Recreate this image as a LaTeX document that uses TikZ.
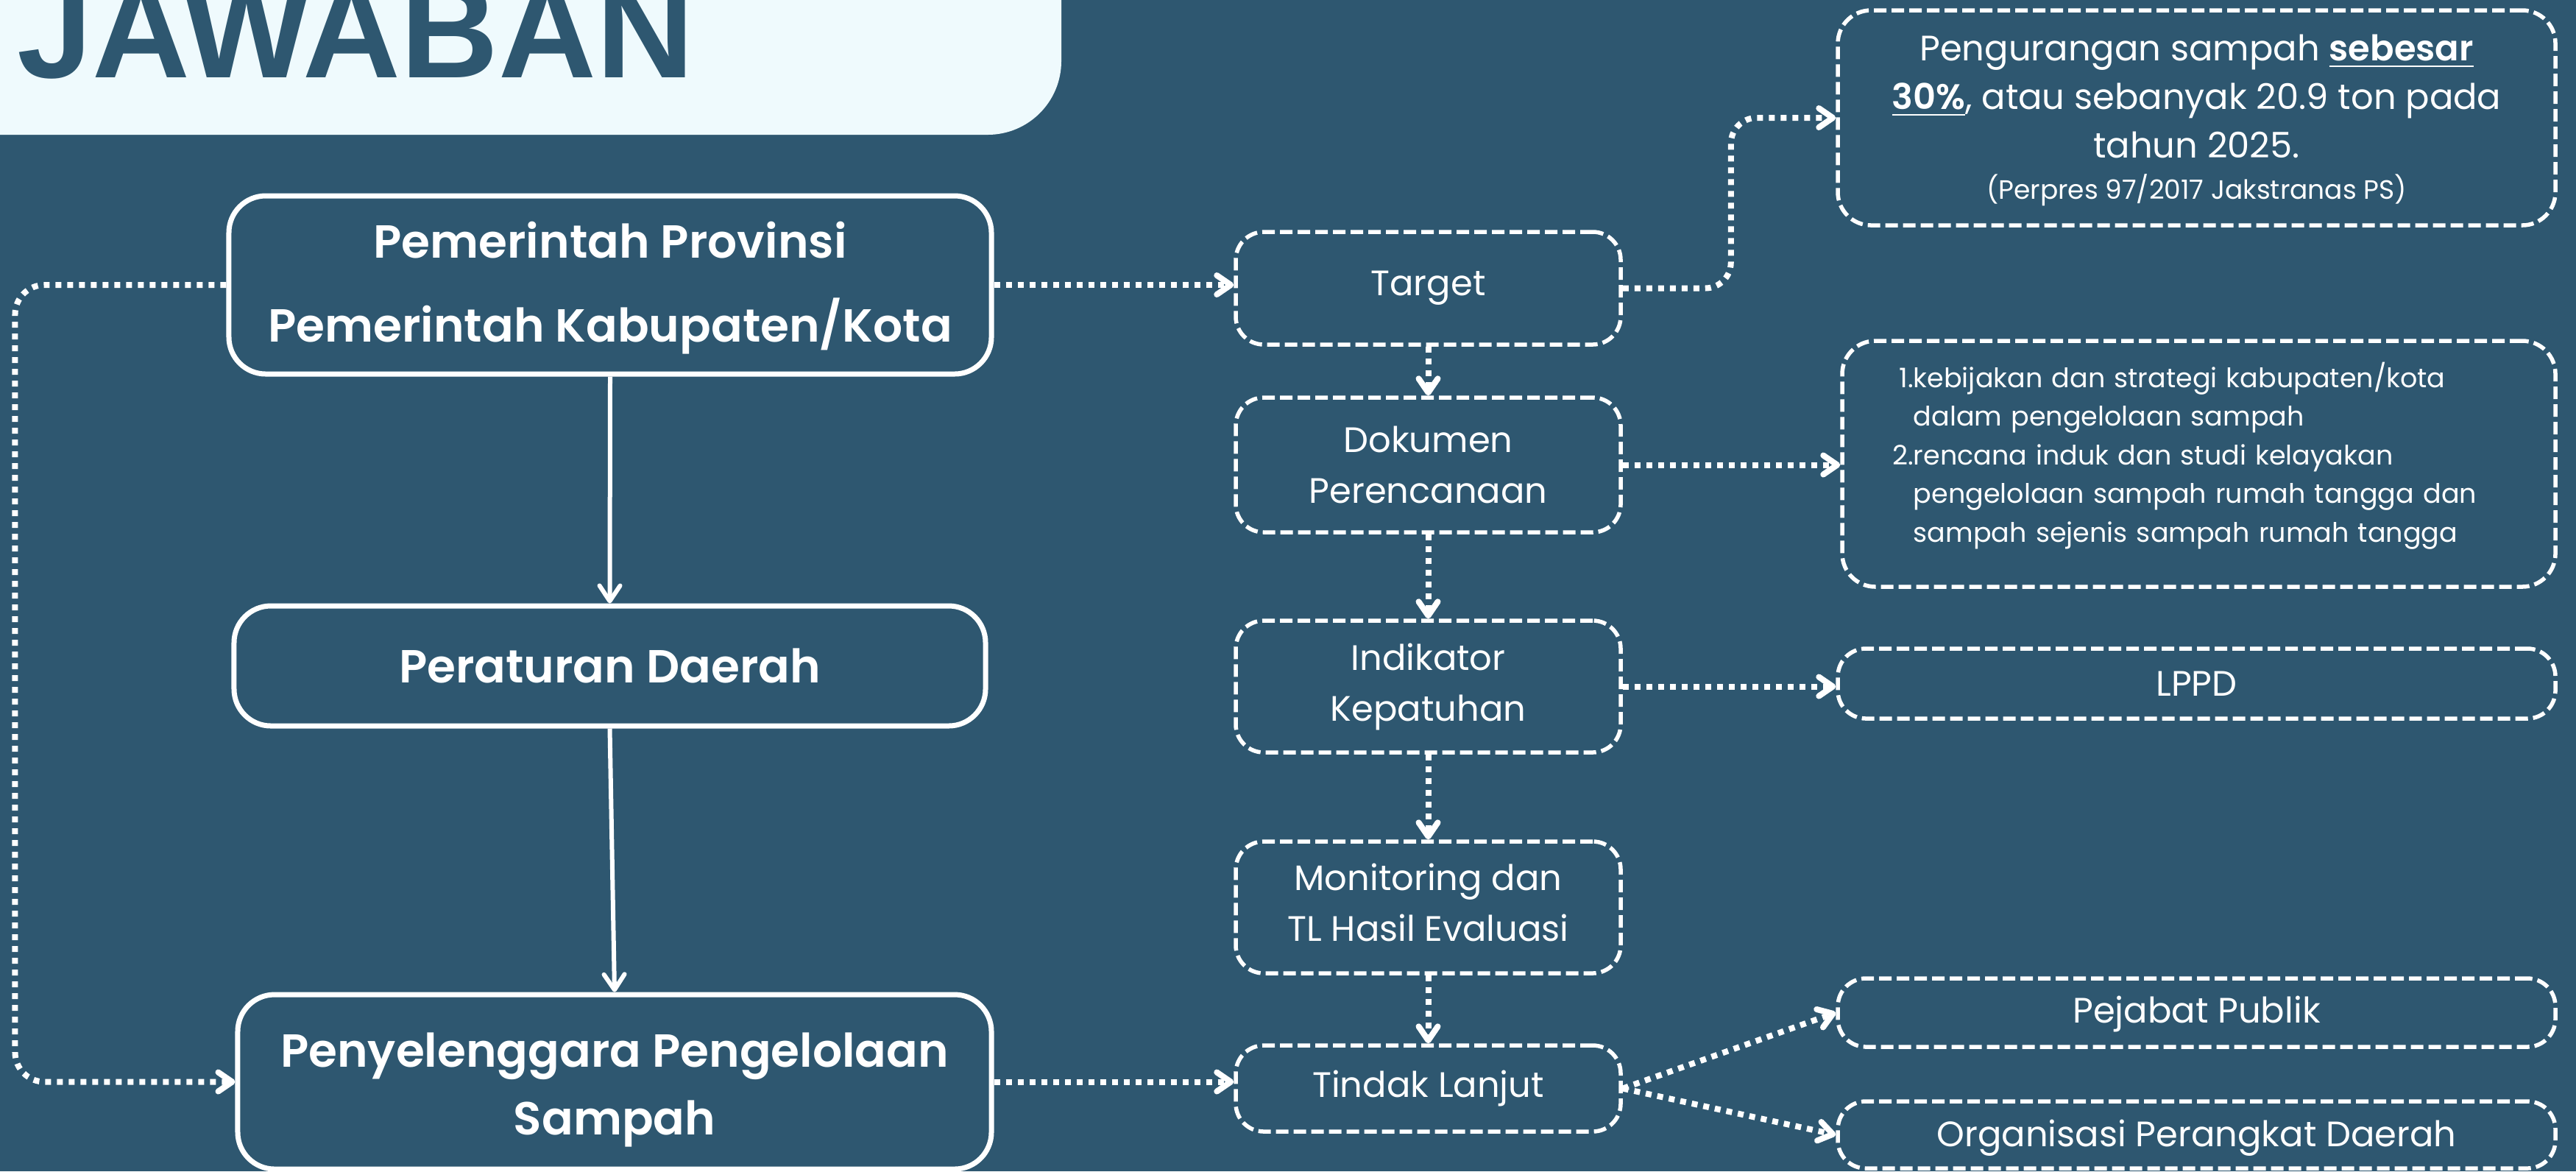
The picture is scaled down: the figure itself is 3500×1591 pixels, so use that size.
\documentclass[tikz,border=0pt]{standalone}
\usepackage{fontspec}
\setmainfont{Poppins}[BoldFont={Poppins SemiBold}]
\newfontfamily\titlefont{Liberation Sans}
\usetikzlibrary{arrows.meta}
\definecolor{bg}{HTML}{2E5770}
\definecolor{tfill}{HTML}{EFFAFD}
\definecolor{fg}{HTML}{FFFFFF}
\newcommand\numbox[1]{\makebox[0.9em][r]{#1}}
\newcommand\numskip{\hspace*{0.9em}}
\newcommand\shiftline[2]{\raisebox{#1}[\height][\depth]{#2}}
\tikzset{
 solidbox/.style={draw=fg, line width=1.4pt, rounded corners=10pt, text=fg, align=center, inner sep=0pt, font=\bfseries\fontsize{12.6}{22.8}\selectfont},
 dbox/.style={draw=fg, line width=1.1pt, dash pattern=on 3.4pt off 1.4pt, rounded corners=7.6pt, text=fg, align=center, inner sep=0pt, font=\fontsize{9.6}{13.8}\selectfont},
 conn/.style={draw=fg, line width=1.6pt, dash pattern=on 1.6pt off 1.6pt, -{Straight Barb[length=3.8pt,width=5.2pt,round]}},
 solidarrow/.style={draw=fg, line width=1.2pt, -{Straight Barb[length=4.2pt,width=5.6pt,round]}},
}
\begin{document}
\begin{tikzpicture}[x=0.2pt,y=-0.2pt]
\useasboundingbox (0,0) rectangle (3500,1591);
\fill[bg] (0,0) rectangle (3500,1591);
\fill[tfill, rounded corners=20pt] (-200,-200) rectangle (1442,183);
\node[anchor=base west, inner sep=0pt, text=bg, font=\titlefont\bfseries\fontsize{36.8}{40}\selectfont] (title) at (22,105) {JAWABAN};

% left column
\node[solidbox, minimum width=207.2pt, minimum height=48.4pt] (b1) at (829,387) {\shiftline{-0.9pt}{Pemerintah Provinsi}\\\shiftline{-0.9pt}{Pemerintah Kabupaten/Kota}};
\node[solidbox, minimum width=204.2pt, minimum height=32.6pt] (b2) at (828.5,904.5) {Peraturan Daerah};
\node[solidbox, minimum width=204.8pt, minimum height=47.4pt, font=\bfseries\fontsize{12.6}{18.4}\selectfont] (b3) at (835,1469.5) {\shiftline{-2.2pt}{Penyelenggara Pengelolaan}\\\shiftline{-2.2pt}{Sampah}};

% middle column
\node[dbox, minimum width=104.6pt, minimum height=30.6pt] (tg) at (1940.5,391.5) {Target};
\node[dbox, minimum width=104.6pt, minimum height=36.6pt] (dk) at (1940.5,631.5) {Dokumen\\Perencanaan};
\node[dbox, minimum width=104.6pt, minimum height=35.8pt] (ik) at (1940.5,932.5) {Indikator\\Kepatuhan};
\node[dbox, minimum width=104.6pt, minimum height=35.8pt] (mo) at (1940.5,1232.5) {\shiftline{1.4pt}{Monitoring dan}\\\shiftline{1.4pt}{TL Hasil Evaluasi}};
\node[dbox, minimum width=104.6pt, minimum height=23.4pt] (tl) at (1940.5,1478.5) {Tindak Lanjut};

% right column
\node[dbox, rounded corners=9pt, minimum width=195pt, minimum height=58.4pt, font=\fontsize{9.6}{13.2}\selectfont] (r1) at (2984.5,160) {\shiftline{-0.6pt}{Pengurangan sampah \underline{\textbf{sebesar}}}\\\shiftline{-0.6pt}{\underline{\textbf{30\%}}, atau sebanyak 20.9 ton pada}\\\shiftline{-0.6pt}{tahun 2025.}\\[-2pt]\shiftline{-0.6pt}{\fontsize{7.2}{11.2}\selectfont (Perpres 97/2017 Jakstranas PS)}};
\node[dbox, rounded corners=9pt, minimum width=193.8pt, minimum height=66.8pt, text width=168.2pt, align=left, font=\fontsize{7.3}{10.5}\selectfont] (r2) at (2987.5,630) {\numbox{1.}kebijakan dan strategi kabupaten/kota\\\numskip dalam pengelolaan sampah\\\numbox{2.}rencana induk dan studi kelayakan\\\numskip pengelolaan sampah rumah tangga dan\\\numskip sampah sejenis sampah rumah tangga\par\vspace{4.4pt}};
\node[dbox, minimum width=195pt, minimum height=19pt] (lp) at (2984.5,928.5) {LPPD};
\node[dbox, minimum width=195pt, minimum height=18.6pt] (pj) at (2984.5,1375.5) {\shiftline{-0.4pt}{Pejabat Publik}};
\node[dbox, minimum width=195pt, minimum height=18.2pt] (og) at (2984.5,1541.5) {\shiftline{-0.8pt}{Organisasi Perangkat Daerah}};

% solid arrows
\draw[solidarrow] (b1.south) -- (b2.north);
\draw[solidarrow] (b2.south) -- (b3.north);

% dotted connectors
\draw[conn, rounded corners=8pt] (b1.west) -- ++(-287,0) |- (b3.west);
\draw[conn] (b1.east) -- (b1.east -| tg.west);
\draw[conn] (b3.east) -- (b3.east -| tl.west);
\draw[conn, rounded corners=7pt] (tg.east) -- ++(147,0) |- (r1.west);
\draw[conn] (dk.east) -- (dk.east -| r2.west);
\draw[conn] (ik.east) -- (ik.east -| lp.west);
\draw[conn] (tl.east) -- (pj.west);
\draw[conn] (tl.east) -- (og.west);
\draw[conn] (tg.south) -- (dk.north);
\draw[conn] (dk.south) -- (ik.north);
\draw[conn] (ik.south) -- (mo.north);
\draw[conn] (mo.south) -- (tl.north);
\end{tikzpicture}
\end{document}
